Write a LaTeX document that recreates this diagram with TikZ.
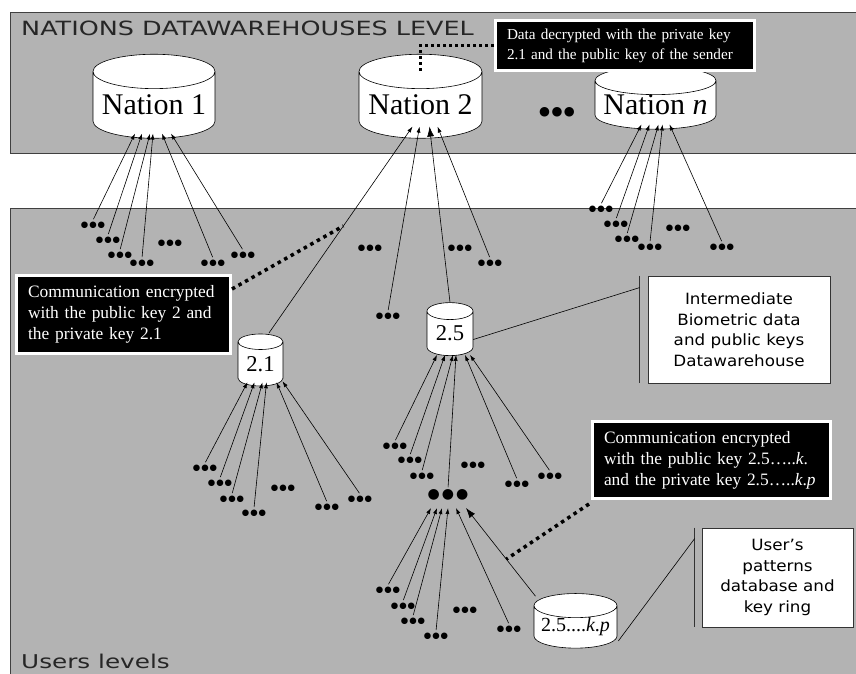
\documentclass[tikz,border=0pt]{standalone}
\usepackage{fontspec}
\setmainfont{Liberation Serif}
\newfontfamily\bandfont[FakeStretch=1.3]{DejaVu Sans}
\newfontfamily\legfont[FakeStretch=1.08]{DejaVu Sans}
\newfontfamily\dotfont{DejaVu Sans}
\newcommand{\dotrow}[1]{●\kern#1●\kern#1●}
\usetikzlibrary{arrows.meta, shapes.geometric, calc}

\definecolor{bandgray}{RGB}{179,179,179}

\tikzset{
  band/.style={draw=black!75, fill=bandgray, line width=0.8pt},
  store/.style={cylinder, shape border rotate=90, draw, fill=white, line width=0.6pt, inner sep=0pt},
  dots/.style={inner sep=1.5pt, font=\dotfont\fontsize{8.5}{8.5}\selectfont},
  feed/.style={line width=0.6pt, shorten <=1pt, -{Latex[length=6pt,width=4pt]}},
  bigfeed/.style={line width=0.6pt, -{Latex[length=10pt,width=7pt]}},
  callout/.style={fill=black, draw=white, line width=3pt, text=white, align=left, inner xsep=11.5pt, font=\fontsize{17.4}{21}\selectfont},
  legend/.style={draw=black!80, fill=white, line width=0.8pt, align=center, inner sep=0pt, font=\legfont\fontsize{15.5}{20.5}\selectfont},
  hint/.style={line width=3.5pt, dash pattern=on 3.5pt off 4pt},
  thinhint/.style={line width=3pt, dash pattern=on 3pt off 3pt},
}

\begin{document}
\begin{tikzpicture}[x=1pt, y=-1pt]
      \useasboundingbox (0,0) rectangle (856,673);
      \clip (0,0) rectangle (856,673);

      \draw[band] (10,12) rectangle (870,153);
      \draw[band] (10,208) rectangle (870,690);

      \node[anchor=base west, inner sep=0pt, text=black!85, font=\bandfont\fontsize{19.6}{19.6}\selectfont] (lvl) at (21,35) {NATIONS DATAWAREHOUSES LEVEL};
      \node[anchor=base west, inner sep=0pt, text=black!85, font=\bandfont\fontsize{19}{19}\selectfont] (usr) at (21,668) {Users levels};

      \node[store, minimum width=122, minimum height=84, aspect=0.33, font=\fontsize{30}{30}\selectfont] (n1) at (154,105) {\raisebox{-4pt}{Nation 1}};
      \node[store, minimum width=123, minimum height=84, aspect=0.33, font=\fontsize{30}{30}\selectfont] (n2) at (420.5,105) {\raisebox{-4pt}{Nation 2}};
      \node[inner sep=1pt, font=\dotfont\fontsize{12.5}{12.5}\selectfont] (nm) at (557,112) {\dotrow{1.5pt}};
      \node[store, minimum width=121, minimum height=54, aspect=0.27, font=\fontsize{30}{30}\selectfont] (nn) at (655.5,105) {Nation \textit{n}};

      \node[store, minimum width=45, minimum height=52, aspect=0.55, font=\fontsize{22.6}{22.6}\selectfont] (c21) at (260.5,364) {2.1};
      \node[store, minimum width=46, minimum height=53, aspect=0.6, font=\fontsize{22.6}{22.6}\selectfont] (c25) at (450,333.5) {2.5};
      \node[inner sep=1pt, font=\dotfont\fontsize{14}{14}\selectfont] (bd) at (448,495) {\dotrow{2pt}};
      \node[store, minimum width=83, minimum height=46, aspect=0.35, font=\fontsize{20}{20}\selectfont] (ckp) at (575.5,627) {2.5....\textit{k}.\textit{p}};

      \node[dots] (a1) at (93,225) {\dotrow{1pt}};
      \node[dots] (a2) at (108,240) {\dotrow{1pt}};
      \node[dots] (a3) at (120,255) {\dotrow{1pt}};
      \node[dots] (a4) at (142,263) {\dotrow{1pt}};
      \node[dots] (a5) at (213,263) {\dotrow{1pt}};
      \node[dots] (a6) at (243,255) {\dotrow{1pt}};
      \node[dots] (a7) at (170,243) {\dotrow{1pt}};

      \draw[feed] (a1.north) -- ([shift={(-19,-5)}]n1.south);
      \draw[feed] (a2.north) -- ([shift={(-12,-5)}]n1.south);
      \draw[feed] (a3.north) -- ([shift={(-4,-5)}]n1.south);
      \draw[feed] (a4.north) -- ([shift={(-1,-5)}]n1.south);
      \draw[feed] (a5.north) -- ([shift={(8,-5)}]n1.south);
      \draw[feed] (a6.north) -- ([shift={(17,-5)}]n1.south);

      \node[dots] (b1) at (388,316) {\dotrow{1pt}};
      \node[dots] (b2) at (490,263) {\dotrow{1pt}};
      \node[dots] (b3) at (370,248) {\dotrow{1pt}};
      \node[dots] (b4) at (460,248) {\dotrow{1pt}};

      \coordinate (s21) at ([shift={(8,0)}]c21.north);
      \coordinate (t21) at ([shift={(-8,-12)}]n2.south);
      \draw[feed] (s21) -- (t21);
      \draw[feed] (b1.north) -- ([shift={(-1,-12)}]n2.south);
      \draw[bigfeed] (c25.north) -- ([shift={(9,-12)}]n2.south);
      \draw[feed] (b2.north) -- ([shift={(17,-12)}]n2.south);

      \node[dots] (d1) at (601,209) {\dotrow{1pt}};
      \node[dots] (d2) at (616,224) {\dotrow{1pt}};
      \node[dots] (d3) at (627,239) {\dotrow{1pt}};
      \node[dots] (d4) at (650,247) {\dotrow{1pt}};
      \node[dots] (d5) at (722,247) {\dotrow{1pt}};
      \node[dots] (d6) at (678,228) {\dotrow{1pt}};

      \draw[feed] (d1.north) -- ([shift={(-14,-5)}]nn.south);
      \draw[feed] (d2.north) -- ([shift={(-6,-5)}]nn.south);
      \draw[feed] (d3.north) -- ([shift={(3,-5)}]nn.south);
      \draw[feed] (d4.north) -- ([shift={(7,-5)}]nn.south);
      \draw[feed] (d5.north) -- ([shift={(14,-5)}]nn.south);

      \node[dots] (e1) at (205,468) {\dotrow{1pt}};
      \node[dots] (e2) at (220,483) {\dotrow{1pt}};
      \node[dots] (e3) at (232,499) {\dotrow{1pt}};
      \node[dots] (e4) at (254,513) {\dotrow{1pt}};
      \node[dots] (e5) at (327,507) {\dotrow{1pt}};
      \node[dots] (e6) at (360,499) {\dotrow{1pt}};
      \node[dots] (e7) at (283,488) {\dotrow{1pt}};

      \draw[feed] (e1.north) -- ([shift={(-13,-4)}]c21.south);
      \draw[feed] (e2.north) -- ([shift={(-6,-4)}]c21.south);
      \draw[feed] (e3.north) -- ([shift={(2,-4)}]c21.south);
      \draw[feed] (e4.north) -- ([shift={(6,-4)}]c21.south);
      \draw[feed] (e5.north) -- ([shift={(16,-4)}]c21.south);
      \draw[feed] (e6.north) -- ([shift={(22,-5)}]c21.south);

      \node[dots] (f1) at (395,446) {\dotrow{1pt}};
      \node[dots] (f2) at (410,460) {\dotrow{1pt}};
      \node[dots] (f3) at (422,476) {\dotrow{1pt}};
      \node[dots] (f4) at (517,484) {\dotrow{1pt}};
      \node[dots] (f5) at (550,476) {\dotrow{1pt}};
      \node[dots] (f6) at (473,465) {\dotrow{1pt}};

      \draw[feed] (f1.north) -- ([shift={(-13,-1)}]c25.south);
      \draw[feed] (f2.north) -- ([shift={(-5,-1)}]c25.south);
      \draw[feed] (f3.north) -- ([shift={(3,-1)}]c25.south);
      \draw[feed] (bd.north) -- ([shift={(6,-1)}]c25.south);
      \draw[feed] (f4.north) -- ([shift={(15,-1)}]c25.south);
      \draw[feed] (f5.north) -- ([shift={(20,-1)}]c25.south);

      \node[dots] (g1) at (388,590) {\dotrow{1pt}};
      \node[dots] (g2) at (403,606) {\dotrow{1pt}};
      \node[dots] (g3) at (413,621) {\dotrow{1pt}};
      \node[dots] (g4) at (436,636) {\dotrow{1pt}};
      \node[dots] (g5) at (509,629) {\dotrow{1pt}};
      \node[dots] (g6) at (465,610) {\dotrow{1pt}};

      \draw[feed] (g1.north) -- ([shift={(-17,13)}]bd.center);
      \draw[feed] (g2.north) -- ([shift={(-11,13)}]bd.center);
      \draw[feed] (g3.north) -- ([shift={(-6,13)}]bd.center);
      \draw[feed] (g4.north) -- ([shift={(0,13)}]bd.center);
      \draw[feed] (g5.north) -- ([shift={(8,13)}]bd.center);
      \coordinate (skp) at ([shift={(-40,3)}]ckp.north);
      \coordinate (tkp) at ([shift={(18,13)}]bd.center);
      \draw[bigfeed] (skp) -- (tkp);

      \node[callout, text width=236, minimum height=50, font=\fontsize{15.2}{20}\selectfont] (k1) at (625,45.5) {Data decrypted with the private key\\2.1 and the public key of the sender};
      \draw[thinhint] (k1.west) -| ([shift={(0,20)}]n2.north);

      \node[callout, text width=191, minimum height=78] (k2) at (123.5,314.5) {Communication encrypted\\with the public key 2 and\\the private key 2.1};
      \draw[hint] ([shift={(0,15)}]k2.north east) -- ($(s21)!0.52!(t21)$);

      \node[callout, text width=215, minimum height=77] (k3) at (711.5,460) {Communication encrypted\\with the public key 2.5…..\textit{k}.\\and the private key 2.5…..\textit{k}.\textit{p}};
      \draw[hint] ([shift={(-2,4)}]k3.south west) -- ($(skp)!0.42!(tkp)$);

      \node[legend, minimum width=182, minimum height=107] (l1) at (739,329.5) {Intermediate\\Biometric data\\and public keys\\Datawarehouse};
      \draw[black!80, line width=0.8pt] ([xshift=-8pt]l1.north west) -- ([xshift=-8pt]l1.south west);
      \draw[line width=0.6pt] ([shift={(0,6)}]c25.east) -- ([shift={(-8,12)}]l1.north west);

      \node[legend, minimum width=151, minimum height=99] (l2) at (777.5,577.5) {User’s\\patterns\\database and\\key ring};
      \draw[black!80, line width=0.8pt] ([xshift=-7pt]l2.north west) -- ([xshift=-7pt]l2.south west);
      \draw[line width=0.6pt] ([shift={(1,14)}]ckp.east) -- ([shift={(-7,11)}]l2.north west);

\end{tikzpicture}
\end{document}
